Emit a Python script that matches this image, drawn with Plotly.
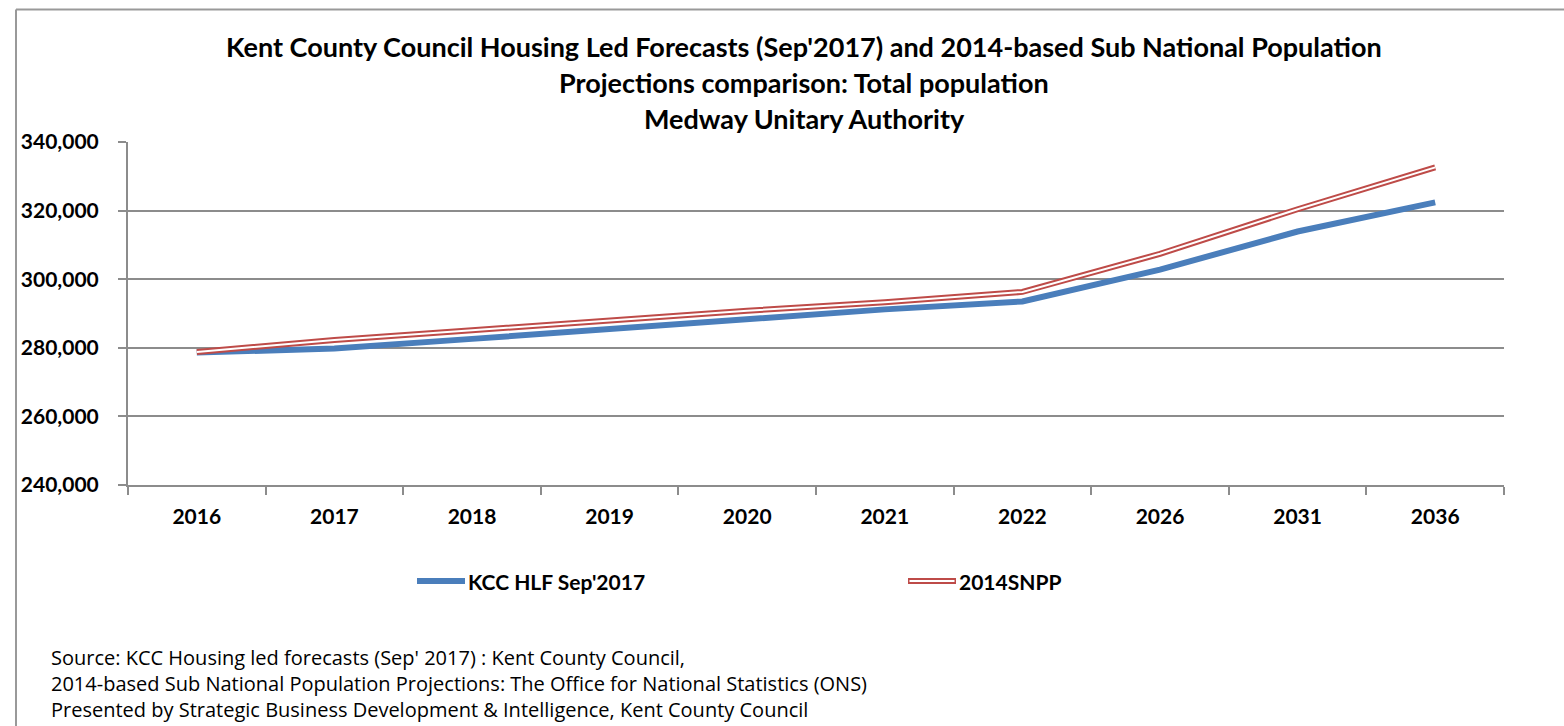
import plotly.graph_objects as go

years = ["2016", "2017", "2018", "2019", "2020", "2021", "2022", "2026", "2031", "2036"]
kcc_hlf = [278600, 279800, 282600, 285500, 288400, 291200, 293500, 302800, 313900, 322400]
snpp_2014 = [278800, 282300, 285100, 288000, 290800, 293300, 296300, 307400, 320400, 332600]

title_lines = [
    "Kent County Council Housing Led Forecasts (Sep'2017) and 2014-based Sub National Population",
    "Projections comparison: Total population",
    "Medway Unitary Authority",
]
legend_names = ["KCC HLF Sep'2017", "2014SNPP"]
footer_lines = [
    "Source: KCC Housing led forecasts (Sep' 2017) : Kent County Council,",
    "2014-based Sub National Population Projections: The Office for National Statistics (ONS)",
    "Presented by Strategic Business Development & Intelligence, Kent County Council",
]

W, H = 1564, 726
L, R, T, B = 128, 1504, 142, 485
FONT = "Lato, 'Open Sans', sans-serif"
BLUE = "#4a7ebb"
RED = "#be4b48"
GRID = "#8c8c8c"


def px_x(p):
    return (p - L) / (R - L)


def px_y(p):
    return (B - p) / (B - T)


fig = go.Figure()
fig.add_trace(go.Scatter(x=years, y=kcc_hlf, mode="lines", name=legend_names[0],
                         line=dict(color=BLUE, width=6), showlegend=False))
fig.add_trace(go.Scatter(x=years, y=snpp_2014, mode="lines", name=legend_names[1],
                         line=dict(color=RED, width=6), showlegend=False))
fig.add_trace(go.Scatter(x=years, y=snpp_2014, mode="lines", name=legend_names[1],
                         line=dict(color="white", width=2), showlegend=False, hoverinfo="skip"))

shapes = []
annotations = []

# frame lines (top and left)
shapes.append(dict(type="line", xref="paper", yref="paper", x0=px_x(16), x1=px_x(W), y0=px_y(9.5), y1=px_y(9.5),
                   line=dict(color="#999999", width=2)))
shapes.append(dict(type="line", xref="paper", yref="paper", x0=px_x(16), x1=px_x(16), y0=px_y(9.5), y1=px_y(H),
                   line=dict(color="#999999", width=2)))

# legend
ly = 581
shapes.append(dict(type="line", xref="paper", yref="paper", x0=px_x(417), x1=px_x(465), y0=px_y(ly), y1=px_y(ly),
                   line=dict(color=BLUE, width=6)))
shapes.append(dict(type="line", xref="paper", yref="paper", x0=px_x(908), x1=px_x(956), y0=px_y(ly), y1=px_y(ly),
                   line=dict(color=RED, width=6)))
shapes.append(dict(type="line", xref="paper", yref="paper", x0=px_x(909.5), x1=px_x(954.5), y0=px_y(ly), y1=px_y(ly),
                   line=dict(color="white", width=2)))
annotations.append(dict(text=legend_names[0], xref="paper", yref="paper", x=px_x(466), y=px_y(ly),
                        xanchor="left", yanchor="middle", showarrow=False,
                        font=dict(family=FONT, size=21, color="black", weight="bold")))
annotations.append(dict(text=legend_names[1], xref="paper", yref="paper", x=px_x(957), y=px_y(ly),
                        xanchor="left", yanchor="middle", showarrow=False,
                        font=dict(family=FONT, size=21, color="black", weight="bold")))

# title
for line, yc in zip(title_lines, [47, 82, 118]):
    annotations.append(dict(text=line, xref="paper", yref="paper", x=px_x(804), y=px_y(yc),
                            xanchor="center", yanchor="middle", showarrow=False,
                            font=dict(family=FONT, size=27, color="black", weight="bold")))

# footer (single multi-line block)
annotations.append(dict(text="<br>".join(footer_lines), xref="paper", yref="paper", x=px_x(49), y=px_y(725),
                        xanchor="left", yanchor="bottom", align="left", showarrow=False,
                        font=dict(family="'Open Sans', Lato, sans-serif", size=20, color="black")))

fig.update_layout(
    width=W, height=H,
    margin=dict(l=L, r=W - R, t=T, b=H - B, pad=0),
    paper_bgcolor="white", plot_bgcolor="white",
    shapes=shapes, annotations=annotations,
    showlegend=False,
    font=dict(family=FONT, color="black"),
)
fig.update_xaxes(type="category", showgrid=False, showline=True, linecolor=GRID, linewidth=2,
                 ticks="outside", tickson="boundaries", ticklen=8, tickcolor=GRID, tickwidth=1.5,
                 ticklabelstandoff=12,
                 tickfont=dict(family=FONT, size=21, color="black", weight="bold"),
                 range=[-0.5, len(years) - 0.5])
fig.update_yaxes(range=[240000, 340000], dtick=20000, tickformat=",", showgrid=True,
                 gridcolor=GRID, gridwidth=1.5, showline=True, linecolor=GRID, linewidth=2,
                 ticks="outside", ticklen=8, tickcolor=GRID, tickwidth=1.5, zeroline=False,
                 ticklabelstandoff=15,
                 tickfont=dict(family=FONT, size=21, color="black", weight="bold"))

fig.write_html("out.html", config={"displayModeBar": False},
               post_script="document.body.style.margin='0';document.body.style.overflow='hidden';")
